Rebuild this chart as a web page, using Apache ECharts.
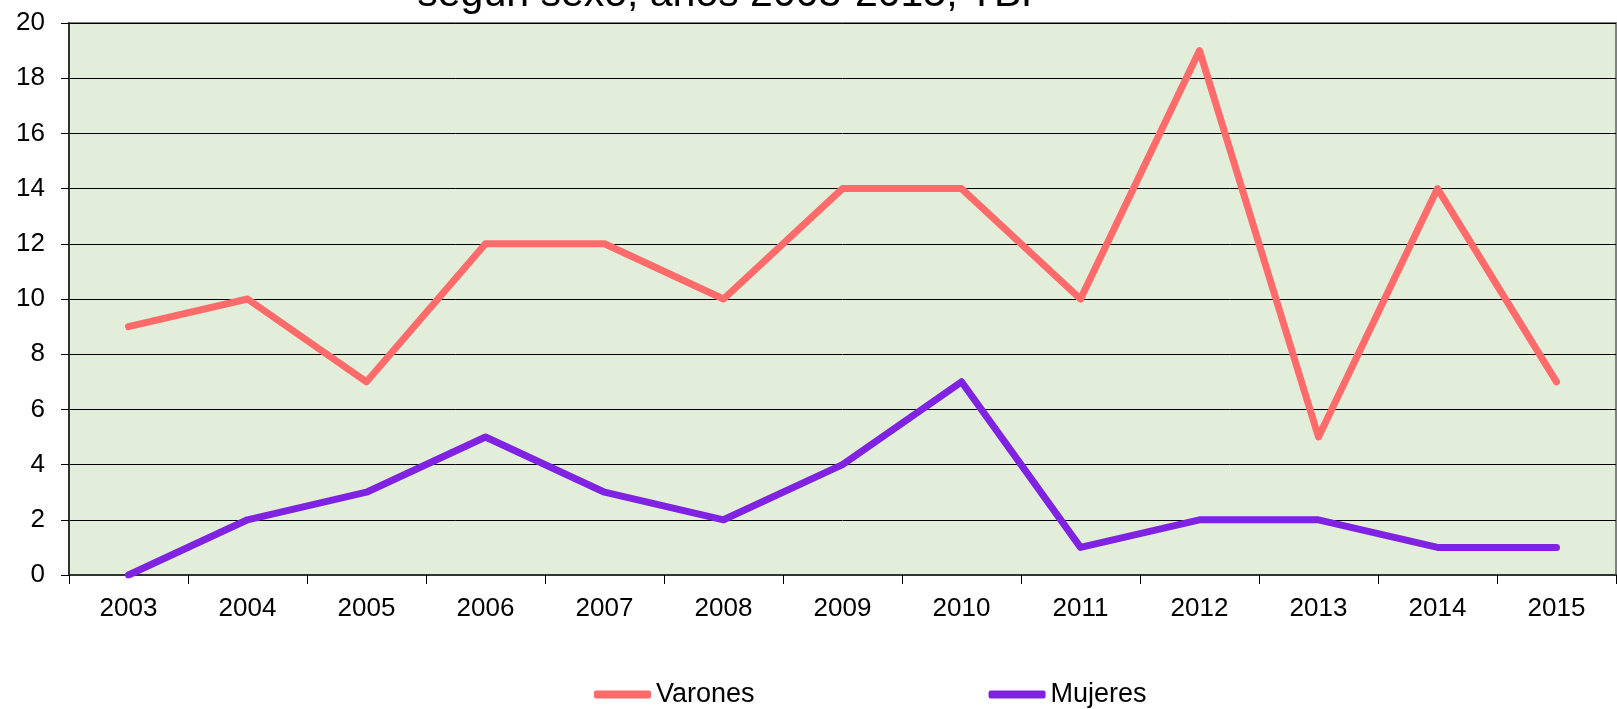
<!DOCTYPE html>
<html>
<head>
<meta charset="utf-8">
<script src="https://cdn.jsdelivr.net/npm/echarts@6/dist/echarts.min.js"></script>
<style>
  html, body { margin: 0; padding: 0; background: #fff; }
  #chart { width: 1617px; height: 709px; }
</style>
</head>
<body>
<div id="chart"></div>
<script>
// datos del gráfico
const years = ['2003', '2004', '2005', '2006', '2007', '2008', '2009', '2010', '2011', '2012', '2013', '2014', '2015'];
const varones = [9, 10, 7, 12, 12, 10, 14, 14, 10, 19, 5, 14, 7];
const mujeres = [0, 2, 3, 5, 3, 2, 4, 7, 1, 2, 2, 1, 1];

const chart = echarts.init(document.getElementById('chart'));
const font = 'Liberation Sans, Arial, sans-serif';

const option = {
  animation: false,
  textStyle: { fontFamily: font },
  title: {
    text: 'según sexo, años 2003-2015, TBP',
    left: 728,
    textAlign: 'center',
    top: -31,
    textStyle: { fontSize: 41, fontWeight: 'normal', color: '#000', fontFamily: font }
  },
  legend: {
    left: 594,
    top: 681,
    padding: 0,
    itemWidth: 57,
    itemHeight: 8,
    itemGap: 234,
    icon: 'roundRect',
    textStyle: { fontSize: 27, color: '#000', fontFamily: font },
    data: ['Varones', 'Mujeres']
  },
  grid: {
    left: 69,
    right: 1,
    top: 23,
    bottom: 134,
    show: true,
    backgroundColor: '#E2EED9',
    borderColor: '#808080',
    borderWidth: 2
  },
  xAxis: {
    type: 'category',
    data: years,
    boundaryGap: true,
    axisLine: { lineStyle: { color: '#333', width: 2 } },
    axisTick: { show: true, length: 9, lineStyle: { color: '#000' } },
    axisLabel: { fontSize: 26, color: '#000', margin: 21 }
  },
  yAxis: {
    type: 'value',
    min: 0,
    max: 20,
    interval: 2,
    axisLine: { show: true, lineStyle: { color: '#333', width: 2 } },
    axisTick: { show: true, length: 8, lineStyle: { color: '#000' } },
    axisLabel: { fontSize: 26, color: '#000', margin: 24 },
    splitLine: { lineStyle: { color: '#000', width: 1 } }
  },
  series: [
    {
      name: 'Varones',
      type: 'line',
      data: varones,
      symbol: 'none',
      color: '#FF6B6B',
      lineStyle: { width: 7, cap: 'round', join: 'round' }
    },
    {
      name: 'Mujeres',
      type: 'line',
      data: mujeres,
      symbol: 'none',
      color: '#7F22E2',
      lineStyle: { width: 7, cap: 'round', join: 'round' }
    }
  ]
};

chart.setOption(option);
</script>
</body>
</html>
